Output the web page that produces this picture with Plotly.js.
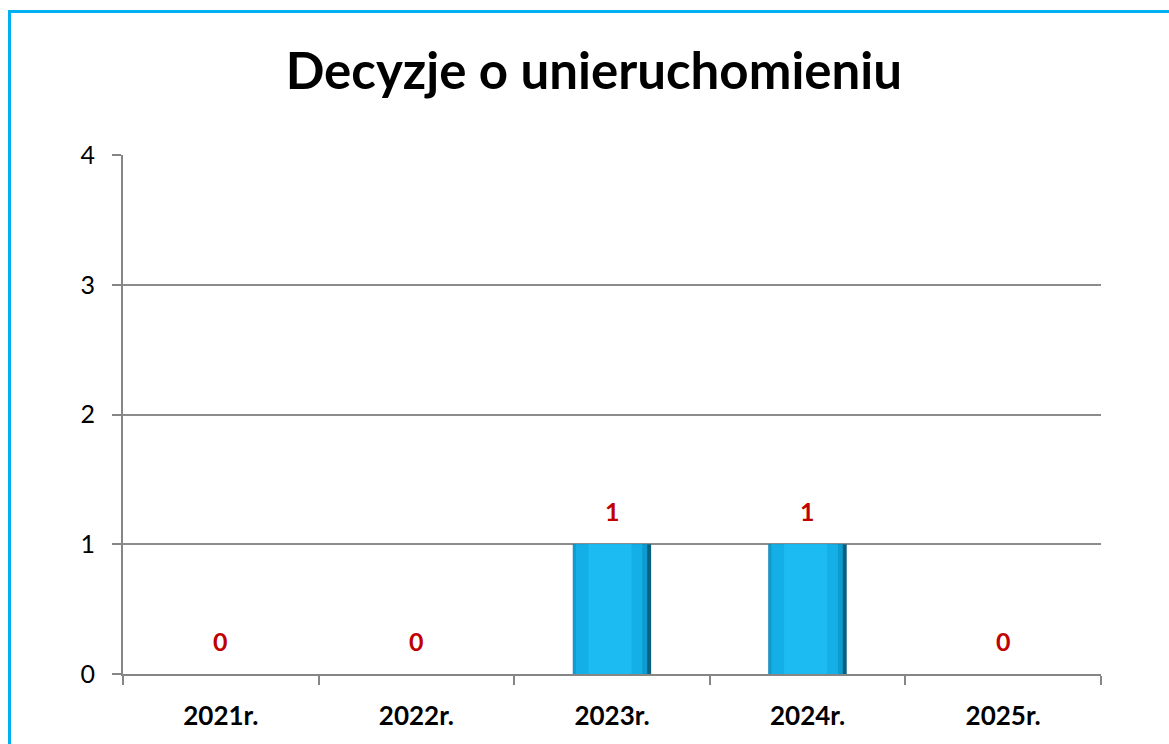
<!DOCTYPE html>
<html>
<head>
<meta charset="utf-8">
<script src="https://cdn.plot.ly/plotly-3.0.1.min.js"></script>
<style>
html,body{margin:0;padding:0;background:#fff;}
#wrap{position:relative;width:1169px;height:744px;overflow:hidden;}
#chart{width:1169px;height:744px;}
#frame{position:absolute;left:8px;top:10px;width:1200px;height:800px;border-left:3px solid #00B0F0;border-top:3px solid #00B0F0;pointer-events:none;}
</style>
</head>
<body>
<div id="wrap"><div id="chart"></div><div id="frame"></div></div>
<script>
const categories = ["2021r.", "2022r.", "2023r.", "2024r.", "2025r."];
const values = [0, 0, 1, 1, 0];
const chartTitle = "Decyzje o unieruchomieniu";

const barLayers = [
  {width: 0.40, offset: -0.20, color: "#0B5F80"},
  {width: 0.38, offset: -0.20, color: "#0E9CD0"},
  {width: 0.34, offset: -0.185, color: "#14AFE6"},
  {width: 0.22, offset: -0.12, color: "#1CBBF2"}
];
const traces = barLayers.map(l => ({
  type: "bar",
  x: categories,
  y: values,
  width: l.width,
  offset: l.offset,
  marker: {color: l.color, line: {width: 0}},
  hoverinfo: "skip",
  showlegend: false
}));

const annotations = categories.map((c, i) => ({
  x: c, y: values[i], xref: "x", yref: "y",
  text: "<b>" + values[i] + "</b>",
  showarrow: false, yanchor: "bottom", yshift: 16,
  font: {family: "Lato, 'Open Sans', sans-serif", size: 25, color: "#C00000"}
}));

const layout = {
  width: 1169, height: 744,
  paper_bgcolor: "#ffffff", plot_bgcolor: "#ffffff",
  margin: {l: 123, r: 68, t: 155, b: 70},
  barmode: "overlay",
  title: {
    text: "<b>" + chartTitle + "</b>",
    x: 0.508, xanchor: "center", y: 0.905, yanchor: "middle",
    font: {family: "Lato, 'Open Sans', sans-serif", size: 51, color: "#000"}
  },
  xaxis: {
    type: "category",
    showline: true, linecolor: "#868686", linewidth: 2,
    ticks: "outside", tickson: "boundaries", ticklen: 9, tickcolor: "#868686", tickwidth: 2,
    showgrid: false,
    tickfont: {family: "Lato, 'Open Sans', sans-serif", size: 26, color: "#000", weight: "bold"},
    ticklabelstandoff: 18,
    fixedrange: true
  },
  yaxis: {
    range: [0, 4], dtick: 1, tick0: 0,
    showline: true, linecolor: "#868686", linewidth: 2,
    ticks: "outside", ticklen: 9, tickcolor: "#868686", tickwidth: 2,
    showgrid: true, gridcolor: "#8C8C8C", gridwidth: 2,
    zeroline: false,
    tickfont: {family: "Lato, 'Open Sans', sans-serif", size: 25, color: "#000"},
    ticklabelstandoff: 12,
    fixedrange: true
  },
  annotations: annotations
};

Plotly.newPlot("chart", traces, layout, {displayModeBar: false, staticPlot: true});
</script>
</body>
</html>
